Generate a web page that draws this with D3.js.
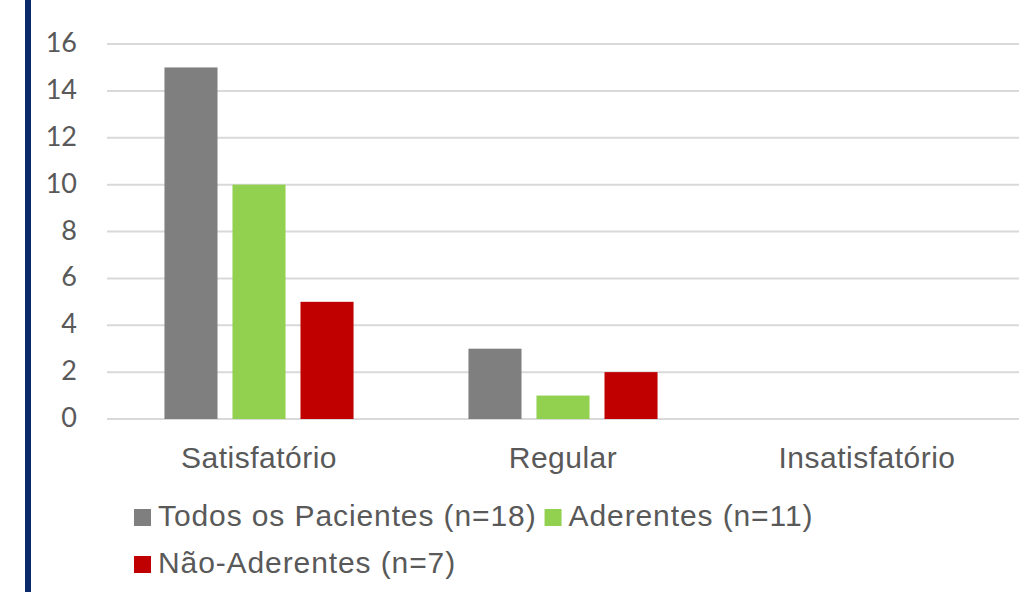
<!DOCTYPE html>
<html>
<head>
<meta charset="utf-8">
<script src="https://cdn.jsdelivr.net/npm/d3@7"></script>
<style>
  body { margin: 0; background: #fff; }
  text { fill: #595959; }
</style>
</head>
<body>
<script>
// chart data
var categories = ["Satisfatório", "Regular", "Insatisfatório"];
var seriesNames = ["Todos os Pacientes (n=18)", "Aderentes (n=11)", "Não-Aderentes (n=7)"];
var todos = [15, 3, 0];
var aderentes = [10, 1, 0];
var naoAderentes = [5, 2, 0];
var yTicks = [0, 2, 4, 6, 8, 10, 12, 14, 16];
var colors = ["#7f7f7f", "#92d050", "#c00000"];

var width = 1029, height = 592;

var svg = d3.select("body").append("svg")
    .attr("width", width)
    .attr("height", height);

// dark blue stripe on the left
svg.append("rect")
    .attr("x", 25).attr("y", 0)
    .attr("width", 6).attr("height", height)
    .attr("fill", "#0b2a6b");

var x0 = d3.scaleBand()
    .domain(categories)
    .range([107, 1019])
    .paddingInner(0.378)
    .paddingOuter(0.189);

var x1 = d3.scaleBand()
    .domain(d3.range(seriesNames.length))
    .range([0, x0.bandwidth()])
    .paddingInner(0.22);

var y = d3.scaleLinear()
    .domain([0, 16])
    .range([419, 44]);

// gridlines
svg.append("g").selectAll("line")
    .data(yTicks).enter()
    .append("line")
    .attr("x1", 107).attr("x2", 1019)
    .attr("y1", function(d){ return y(d); })
    .attr("y2", function(d){ return y(d); })
    .attr("stroke", "#d9d9d9")
    .attr("stroke-width", 2);

// y tick labels
var yAxis = svg.append("g")
    .attr("transform", "translate(77,0)")
    .call(d3.axisLeft(y).tickValues(yTicks).tickSize(0).tickPadding(0));
yAxis.select(".domain").remove();
yAxis.selectAll("text")
    .attr("dy", "0.28em")
    .style("font-family", "Lato, 'Open Sans', sans-serif")
    .style("font-size", "27px")
    .style("fill", "#595959");

// bars
var rows = categories.map(function(c, i){
    return [todos[i], aderentes[i], naoAderentes[i]];
});

var groups = svg.append("g").selectAll("g")
    .data(rows).enter()
    .append("g")
    .attr("transform", function(d, i){ return "translate(" + x0(categories[i]) + ",0)"; });

groups.selectAll("rect")
    .data(function(d){ return d; }).enter()
    .append("rect")
    .attr("x", function(d, j){ return x1(j); })
    .attr("y", function(d){ return y(d); })
    .attr("width", x1.bandwidth())
    .attr("height", function(d){ return y(0) - y(d); })
    .attr("fill", function(d, j){ return colors[j]; });

// category labels
var xAxis = svg.append("g")
    .attr("transform", "translate(0,468)")
    .call(d3.axisBottom(x0).tickSize(0).tickPadding(0));
xAxis.select(".domain").remove();
xAxis.selectAll("text")
    .attr("dy", 0)
    .style("font-family", "'Liberation Sans', Arial, sans-serif")
    .style("font-size", "30px")
    .style("letter-spacing", "0.5px")
    .style("fill", "#595959");

// legend
var legendRows = [[0, 1], [2]];
var legendY = [526, 573];

legendRows.forEach(function(row, r){
    var cx = 134;
    row.forEach(function(j){
        svg.append("rect")
            .attr("x", cx).attr("y", legendY[r] - 17)
            .attr("width", 17).attr("height", 17)
            .attr("fill", colors[j]);
        var t = svg.append("text")
            .attr("x", cx + 24).attr("y", legendY[r])
            .style("font-family", "'Liberation Sans', Arial, sans-serif")
            .style("font-size", "30px")
            .style("letter-spacing", "0.9px")
            .text(seriesNames[j]);
        cx += 24 + t.node().getComputedTextLength() + 8;
    });
});
</script>
</body>
</html>
